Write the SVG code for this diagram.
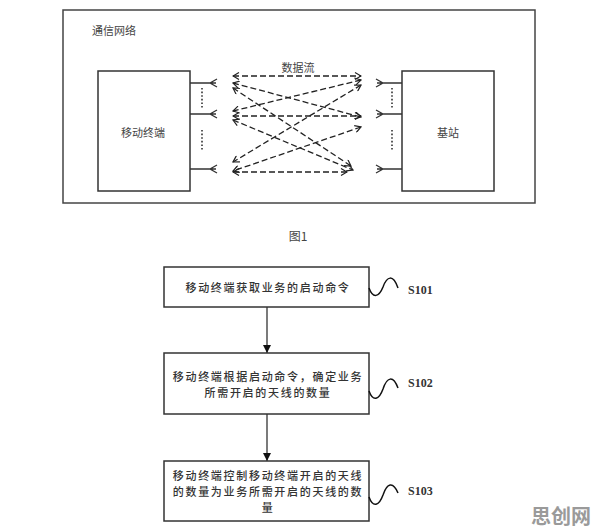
<svg xmlns="http://www.w3.org/2000/svg" width="596" height="532" viewBox="0 0 596 532">
<defs>
<marker id="ah" viewBox="0 0 8 8" refX="7" refY="4" markerWidth="8" markerHeight="8" markerUnits="userSpaceOnUse" orient="auto-start-reverse">
<path d="M1,0.5 L7,4 L1,7.5" fill="none" stroke="#222" stroke-width="1.2"/>
</marker>
<marker id="fa" viewBox="0 0 8 8" refX="8" refY="4" markerWidth="8" markerHeight="8" markerUnits="userSpaceOnUse" orient="auto">
<path d="M0,0 L8,4 L0,8 Z" fill="#111"/>
</marker>
</defs>
<style>
.box{fill:#fff;stroke:#333;stroke-width:1.5}
.ln{stroke:#333;stroke-width:1.3;fill:none}
.dot{stroke:#333;stroke-width:1.6;stroke-dasharray:1.6 2;fill:none}
.df{stroke:#222;stroke-width:1.3;fill:none;stroke-dasharray:6 3;marker-start:url(#ah);marker-end:url(#ah)}
.t{font-family:"Noto Sans CJK SC","Liberation Serif",serif;fill:#444;text-anchor:middle;dominant-baseline:central}
.tf{font-family:"Noto Sans CJK SC",serif;fill:#333;font-size:11px;letter-spacing:1.7px;text-anchor:middle;dominant-baseline:central;font-weight:500}
.sl{font-family:"Liberation Serif",serif;fill:#333;font-size:12px;font-weight:bold;dominant-baseline:central}
.sq{fill:none;stroke:#111;stroke-width:1.5}
.wm{font-family:"Noto Sans CJK SC",sans-serif;font-size:20px;font-weight:bold;fill:#9a9a9a;text-anchor:middle;dominant-baseline:central}
</style>
<rect width="596" height="532" fill="#fff"/>

<g id="network">
<rect x="63" y="10" width="472" height="193" fill="none" stroke="#444" stroke-width="1.5"/>
<text class="t" x="114" y="30" font-size="11">通信网络</text>
</g>

<g id="terminal">
<rect class="box" x="98" y="71" width="92" height="120"/>
<text class="t" x="143" y="132" font-size="11">移动终端</text>
<path class="ln" d="M190,83 H216 M217,79 L210,83 L217,87 M190,114 H216 M217,110 L210,114 L217,118 M190,169 H216 M217,165 L210,169 L217,173"/>
<path class="dot" d="M202,88 V108 M202,130 V151"/>
</g>

<g id="basestation">
<rect class="box" x="402" y="71" width="92" height="120"/>
<text class="t" x="448" y="132" font-size="11">基站</text>
<path class="ln" d="M377,83 H402 M376,79 L383,83 L376,87 M377,114 H402 M376,110 L383,114 L376,118 M377,169 H402 M376,165 L383,169 L376,173"/>
<path class="dot" d="M392,88 V108 M392,130 V151"/>
</g>

<g id="dataflow">
<text class="t" x="298" y="67" font-size="11">数据流</text>
<line class="df" x1="233" y1="76" x2="361" y2="76"/>
<line class="df" x1="233" y1="83" x2="361" y2="117"/>
<line class="df" x1="233" y1="88" x2="351" y2="166"/>
<line class="df" x1="361" y1="80" x2="233" y2="111"/>
<line class="df" x1="361" y1="85" x2="233" y2="162"/>
<line class="df" x1="233" y1="116" x2="361" y2="116"/>
<line class="df" x1="233" y1="120" x2="353" y2="170"/>
<line class="df" x1="361" y1="127" x2="233" y2="171"/>
<line class="df" x1="233" y1="172" x2="347" y2="172"/>
</g>

<text class="t" x="298" y="235" font-size="12">图1</text>

<g id="connectors">
<line class="ln" x1="267" y1="307" x2="267" y2="353" stroke="#111" marker-end="url(#fa)"/>
<line class="ln" x1="267" y1="414" x2="267" y2="461" stroke="#111" marker-end="url(#fa)"/>
</g>

<g id="S101">
<rect class="box" x="164" y="267" width="205" height="40" stroke="#222"/>
<text class="tf" x="268" y="287">移动终端获取业务的启动命令</text>
<path class="sq" d="M369,288 C373,299 379,297 383,287 C387,276 393,274 398,288"/>
<text class="sl" x="408" y="290">S101</text>
</g>

<g id="S102">
<rect class="box" x="164" y="353" width="205" height="61" stroke="#222"/>
<text class="tf" x="268" y="375.5">移动终端根据启动命令，确定业务</text>
<text class="tf" x="268" y="391.5">所需开启的天线的数量</text>
<path class="sq" d="M369,391 C373,402 379,400 383,389 C387,377 393,375 398,388"/>
<text class="sl" x="408" y="383">S102</text>
</g>

<g id="S103">
<rect class="box" x="164" y="461" width="205" height="60" stroke="#222"/>
<text class="tf" x="268" y="475">移动终端控制移动终端开启的天线</text>
<text class="tf" x="268" y="491">的数量为业务所需开启的天线的数</text>
<text class="tf" x="268" y="507">量</text>
<path class="sq" d="M369,497 C373,508 379,506 383,495 C387,483 393,481 398,493"/>
<text class="sl" x="408" y="491">S103</text>
</g>

<text class="wm" x="561" y="515">思创网</text>
</svg>
